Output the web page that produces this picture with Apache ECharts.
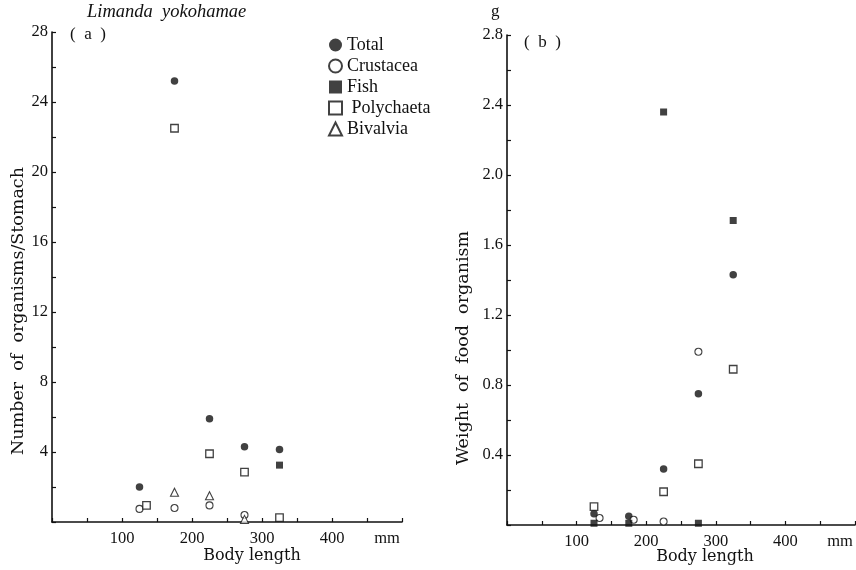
<!DOCTYPE html>
<html>
<head>
<meta charset="utf-8">
<script src="https://cdn.jsdelivr.net/npm/echarts@6/dist/echarts.min.js"></script>
<style>
  html, body { margin: 0; padding: 0; background: #fff; }
  #chart { width: 856px; height: 570px; }
</style>
</head>
<body>
<div id="chart"></div>
<script>
// (a) Number of food organisms per stomach, by body length (mm)
const countTotal      = [[125, 2.0], [175, 25.2], [225, 5.9], [275, 4.3], [325, 4.15]];
const countCrustacea  = [[125, 0.75], [175, 0.8], [225, 0.95], [275, 0.4]];
const countFish       = [[325, 3.25]];
const countPolychaeta = [[135, 0.95], [175, 22.5], [225, 3.9], [275, 2.85], [325, 0.25]];
const countBivalvia   = [[175, 1.7], [225, 1.5], [275, 0.15]];

// (b) Weight of food organisms (g), by body length (mm)
const weightTotal      = [[125, 0.065], [175, 0.05], [225, 0.32], [275, 0.75], [325, 1.43]];
const weightCrustacea  = [[133, 0.04], [182, 0.03], [225, 0.02], [275, 0.99]];
const weightFish       = [[125, 0.01], [175, 0.01], [225, 2.36], [275, 0.01], [325, 1.74]];
const weightPolychaeta = [[125, 0.105], [225, 0.19], [275, 0.35], [325, 0.89]];

const seriesNames = ['Total', 'Crustacea', 'Fish', 'Polychaeta', 'Bivalvia'];

const FONT = '"Liberation Serif", "DejaVu Serif", serif';
const WIDE = '"DejaVu Serif", "Liberation Serif", serif';
const INK = '#111';

const markStyle = {
  Total:      { symbol: 'circle',   symbolSize: 7.5, itemStyle: { color: INK, borderWidth: 0 } },
  Crustacea:  { symbol: 'circle',   symbolSize: 7,   itemStyle: { color: '#fff', borderColor: INK, borderWidth: 1.1 } },
  Fish:       { symbol: 'rect',     symbolSize: 7,   itemStyle: { color: INK, borderWidth: 0 } },
  Polychaeta: { symbol: 'rect',     symbolSize: 7.5, itemStyle: { color: '#fff', borderColor: INK, borderWidth: 1.3 } },
  Bivalvia:   { symbol: 'triangle', symbolSize: 8,   itemStyle: { color: '#fff', borderColor: INK, borderWidth: 1.1 } }
};

function scatter(name, data, axisIndex) {
  return Object.assign({
    type: 'scatter',
    name: name,
    data: data,
    xAxisIndex: axisIndex,
    yAxisIndex: axisIndex,
    silent: true
  }, JSON.parse(JSON.stringify(markStyle[name])));
}

const tickLabel = { fontFamily: FONT, fontSize: 16.5, color: INK };

function xAxisFor(gridIndex) {
  return {
    type: 'value', gridIndex: gridIndex,
    min: 0, max: 500, interval: 50,
    splitLine: { show: false },
    axisLine: { lineStyle: { color: INK, width: 1.6 } },
    axisTick: { inside: true, length: 4, lineStyle: { color: INK, width: 1.2 } },
    axisLabel: Object.assign({}, tickLabel, {
      margin: 8,
      formatter: function (v) {
        if (v === 500) return '{u|mm}';
        return (v % 100 === 0 && v > 0) ? String(v) : '';
      },
      rich: { u: { fontFamily: FONT, fontSize: 16.5, color: INK, padding: [0, 30, 0, 0] } }
    })
  };
}

const option = {
  animation: false,
  backgroundColor: '#fff',
  grid: [
    { left: 52, top: 32, width: 350, height: 490 },
    { left: 507, top: 35, width: 348, height: 490 }
  ],
  xAxis: [xAxisFor(0), xAxisFor(1)],
  yAxis: [
    {
      type: 'value', gridIndex: 0, min: 0, max: 28, interval: 2,
      splitLine: { show: false },
      axisLine: { lineStyle: { color: INK, width: 1.6 } },
      axisTick: { inside: true, length: 4, lineStyle: { color: INK, width: 1.2 } },
      axisLabel: Object.assign({}, tickLabel, {
        margin: 4,
        formatter: function (v) { return (v % 4 === 0 && v > 0) ? String(v) : ''; }
      })
    },
    {
      type: 'value', gridIndex: 1, min: 0, max: 2.8, interval: 0.2,
      splitLine: { show: false },
      axisLine: { lineStyle: { color: INK, width: 1.6 } },
      axisTick: { inside: true, length: 4, lineStyle: { color: INK, width: 1.2 } },
      axisLabel: Object.assign({}, tickLabel, {
        margin: 4,
        formatter: function (v) {
          const k = Math.round(v * 10);
          return (k % 4 === 0 && k > 0) ? (k / 10).toFixed(1) : '';
        }
      })
    }
  ],
  legend: {
    orient: 'vertical',
    left: 328, top: 36,
    padding: 0,
    itemWidth: 13, itemHeight: 13, itemGap: 3,
    data: seriesNames,
    selectedMode: false,
    formatter: function (n) { return n === 'Polychaeta' ? ' ' + n : n; },
    textStyle: { fontFamily: FONT, fontSize: 18, color: INK, lineHeight: 18 }
  },
  series: [
    scatter('Total', countTotal, 0),
    scatter('Crustacea', countCrustacea, 0),
    scatter('Fish', countFish, 0),
    scatter('Polychaeta', countPolychaeta, 0),
    scatter('Bivalvia', countBivalvia, 0),
    scatter('Total', weightTotal, 1),
    scatter('Crustacea', weightCrustacea, 1),
    scatter('Fish', weightFish, 1),
    scatter('Polychaeta', weightPolychaeta, 1)
  ],
  graphic: [
    { type: 'text', left: 87, top: 3, style: { text: 'Limanda  yokohamae', font: 'italic 18.5px ' + FONT, fill: INK } },
    { type: 'text', left: 70, top: 26, style: { text: '(  a  )', font: '17px ' + FONT, fill: INK } },
    { type: 'text', left: 524, top: 34, style: { text: '(  b  )', font: '17px ' + FONT, fill: INK } },
    { type: 'text', left: 491, top: 3, style: { text: 'g', font: '17px ' + FONT, fill: INK } },
    { type: 'text', x: 252, y: 556, style: { text: 'Body length', font: '16px ' + WIDE, fill: INK, align: 'center', verticalAlign: 'middle' } },
    { type: 'text', x: 705, y: 557, style: { text: 'Body length', font: '16px ' + WIDE, fill: INK, align: 'center', verticalAlign: 'middle' } },
    { type: 'text', x: 18, y: 311, rotation: Math.PI / 2, style: { text: 'Number  of  organisms/Stomach', font: '17.5px ' + WIDE, fill: INK, align: 'center', verticalAlign: 'middle' } },
    { type: 'text', x: 463, y: 348, rotation: Math.PI / 2, style: { text: 'Weight  of  food  organism', font: '17.5px ' + WIDE, fill: INK, align: 'center', verticalAlign: 'middle' } }
  ]
};

echarts.init(document.getElementById('chart'), null, { renderer: 'canvas' }).setOption(option);
</script>
</body>
</html>
